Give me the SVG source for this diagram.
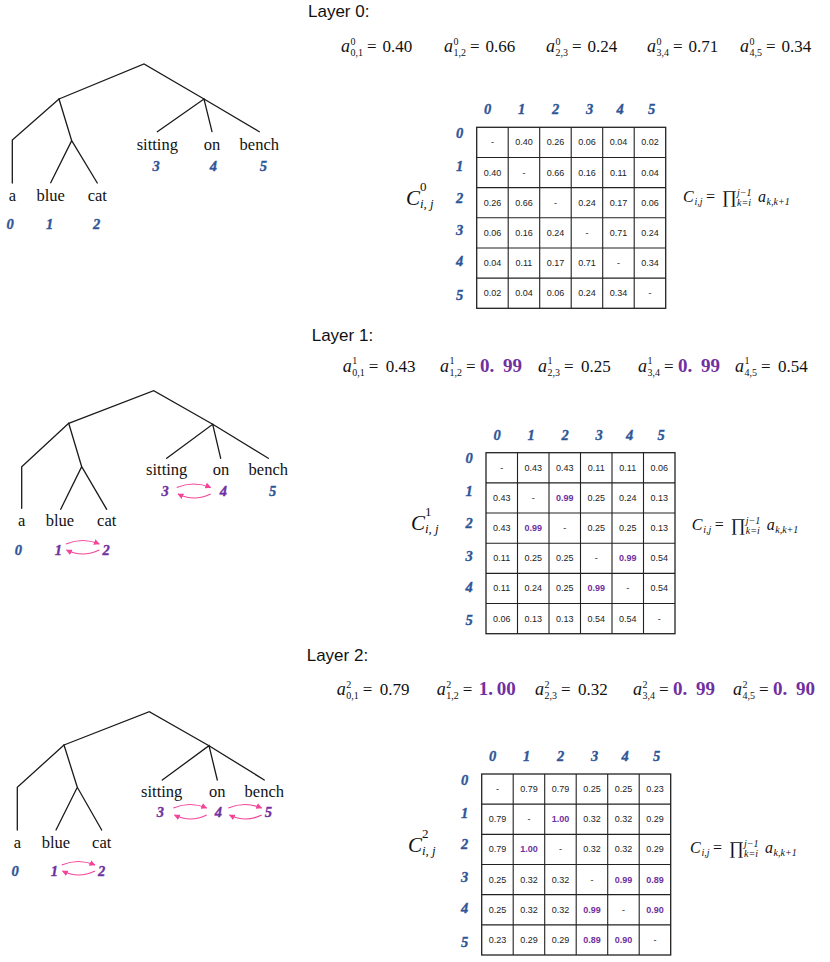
<svg xmlns="http://www.w3.org/2000/svg" xmlns:xlink="http://www.w3.org/1999/xlink" width="830" height="962" viewBox="0 0 830 962">
<style>
.ln{stroke:#1a1a1a;stroke-width:1.3;fill:none;stroke-linecap:round}
.w{font-family:"Liberation Serif","DejaVu Serif",serif;font-size:16.5px;text-anchor:middle;fill:#111}
.ix{font-family:"Liberation Serif","DejaVu Serif",serif;font-style:italic;font-weight:bold;font-size:14.5px;text-anchor:middle;fill:#2F5597;stroke:#2F5597;stroke-width:0.35}
.pu{fill:#7030A0;stroke:#7030A0}
.arr{stroke:#F4449A;stroke-width:1.2;fill:none;marker-end:url(#ah)}
.hd{font-family:"Liberation Sans",Arial,sans-serif;font-size:17px;fill:#111}
.m{font-family:"Liberation Serif","DejaVu Serif",serif;font-size:17px;fill:#111}
.mi{font-style:italic;font-size:18px}
.s{font-size:10px}
.pv{font-weight:bold;fill:#7030A0;font-size:19px}
.cell{font-family:"Liberation Sans",Arial,sans-serif;font-size:9px;text-anchor:middle;fill:#222}
.cp{fill:#7030A0;font-weight:bold}
.gr{stroke:#222;stroke-width:1.3;fill:#fff}
.gl{stroke:#222;stroke-width:1.1;fill:none}
.cl{font-family:"Liberation Serif","DejaVu Serif",serif;fill:#111}
.sf{font-family:"Liberation Serif","DejaVu Serif",serif;fill:#111}
</style>
<defs>
<marker id="ah" viewBox="0 0 10 10" refX="9" refY="5" markerWidth="6" markerHeight="6" orient="auto" markerUnits="userSpaceOnUse">
<path d="M0,0 L10,5 L0,10 z" fill="#F4449A"/>
</marker>
<g id="grid">
<rect class="gr" x="0" y="0" width="189" height="181"/>
<path class="gl" d="M31.5,0V181M63,0V181M94.5,0V181M126,0V181M157.5,0V181M0,30.17H189M0,60.33H189M0,90.5H189M0,120.67H189M0,150.83H189"/>
</g>
<g id="hdrs">
<text class="ix" y="-13"><tspan x="11">0</tspan><tspan x="45">1</tspan><tspan x="79">2</tspan><tspan x="113">3</tspan><tspan x="143.5">4</tspan><tspan x="175">5</tspan></text>
<text class="ix" x="-17" y="10.6">0</text>
<text class="ix" x="-17" y="43.6">1</text>
<text class="ix" x="-17" y="75.3">2</text>
<text class="ix" x="-17" y="107.9">3</text>
<text class="ix" x="-17" y="139">4</text>
<text class="ix" x="-17" y="172.6">5</text>
</g>
<g id="sform">
<text class="sf" x="0" y="0" font-size="16" font-style="italic">C</text>
<text class="sf" x="11.5" y="3" font-size="10" font-style="italic">i,j</text>
<text class="sf" x="23" y="0" font-size="16">=</text>
<text class="sf" x="39" y="1" font-size="18">∏</text>
<text class="sf" x="54" y="-6" font-size="10" font-style="italic">j−1</text>
<text class="sf" x="54" y="4" font-size="10" font-style="italic">k=i</text>
<text class="sf" x="75" y="0" font-size="16" font-style="italic">a</text>
<text class="sf" x="83.5" y="3" font-size="10" font-style="italic">k,k+1</text>
</g>
</defs>

<!-- ===== Layer 0 ===== -->
<text class="hd" x="308" y="17">Layer 0:</text>
<g id="coef0">
<g transform="translate(341,52)"><text class="m mi">a</text><text class="m s" x="9.5" y="-7.5">0</text><text class="m s" x="9.5" y="4">0,1</text><text class="m" x="26">=</text><text class="m" x="41.5">0.40</text></g>
<g transform="translate(444,52)"><text class="m mi">a</text><text class="m s" x="9.5" y="-7.5">0</text><text class="m s" x="9.5" y="4">1,2</text><text class="m" x="26">=</text><text class="m" x="41.5">0.66</text></g>
<g transform="translate(546,52)"><text class="m mi">a</text><text class="m s" x="9.5" y="-7.5">0</text><text class="m s" x="9.5" y="4">2,3</text><text class="m" x="26">=</text><text class="m" x="41.5">0.24</text></g>
<g transform="translate(647,52)"><text class="m mi">a</text><text class="m s" x="9.5" y="-7.5">0</text><text class="m s" x="9.5" y="4">3,4</text><text class="m" x="26">=</text><text class="m" x="41.5">0.71</text></g>
<g transform="translate(740,52)"><text class="m mi">a</text><text class="m s" x="9.5" y="-7.5">0</text><text class="m s" x="9.5" y="4">4,5</text><text class="m" x="26">=</text><text class="m" x="41.5">0.34</text></g>
</g>

<g id="tree0">
<g id="tree0-edges">
<path class="ln" d="M59,99 L144,64 L204,99"/>
<path class="ln" d="M59,99 L12.3,140 L12.3,183"/>
<path class="ln" d="M59,99 L71.7,140.7 M50.7,182.7 L71.7,140.7 L97.3,183"/>
<path class="ln" d="M157.3,131.7 L204,99 L212,131.7 M204,99 L259.3,131.7"/>
</g>
<g id="tree0-words">
<text class="w" x="12.3" y="201">a</text>
<text class="w" x="50.7" y="201">blue</text>
<text class="w" x="97.3" y="201">cat</text>
<text class="w" x="157.3" y="150">sitting</text>
<text class="w" x="212" y="150">on</text>
<text class="w" x="259.3" y="150">bench</text>
</g>
<g id="tree0-idx">
<text class="ix" x="10" y="228.5">0</text>
<text class="ix" x="49.5" y="228.5">1</text>
<text class="ix" x="96.5" y="228.5">2</text>
<text class="ix" x="156" y="171">3</text>
<text class="ix" x="213.3" y="171">4</text>
<text class="ix" x="263.3" y="171">5</text>
</g>
</g>

<g id="matrix0">
<text class="cl" x="406" y="205" font-size="21" font-style="italic">C</text>
<text class="cl" x="420" y="191" font-size="13">0</text>
<text class="cl" x="420" y="208" font-size="13" font-style="italic">i, j</text>
<g transform="translate(476.7,127.3)">
<use xlink:href="#grid"/>
<use xlink:href="#hdrs"/>
<text class="cell" y="18.1"><tspan x="15.75">-</tspan><tspan x="47.25">0.40</tspan><tspan x="78.75">0.26</tspan><tspan x="110.25">0.06</tspan><tspan x="141.75">0.04</tspan><tspan x="173.25">0.02</tspan></text>
<text class="cell" y="48.3"><tspan x="15.75">0.40</tspan><tspan x="47.25">-</tspan><tspan x="78.75">0.66</tspan><tspan x="110.25">0.16</tspan><tspan x="141.75">0.11</tspan><tspan x="173.25">0.04</tspan></text>
<text class="cell" y="78.4"><tspan x="15.75">0.26</tspan><tspan x="47.25">0.66</tspan><tspan x="78.75">-</tspan><tspan x="110.25">0.24</tspan><tspan x="141.75">0.17</tspan><tspan x="173.25">0.06</tspan></text>
<text class="cell" y="108.6"><tspan x="15.75">0.06</tspan><tspan x="47.25">0.16</tspan><tspan x="78.75">0.24</tspan><tspan x="110.25">-</tspan><tspan x="141.75">0.71</tspan><tspan x="173.25">0.24</tspan></text>
<text class="cell" y="138.8"><tspan x="15.75">0.04</tspan><tspan x="47.25">0.11</tspan><tspan x="78.75">0.17</tspan><tspan x="110.25">0.71</tspan><tspan x="141.75">-</tspan><tspan x="173.25">0.34</tspan></text>
<text class="cell" y="168.9"><tspan x="15.75">0.02</tspan><tspan x="47.25">0.04</tspan><tspan x="78.75">0.06</tspan><tspan x="110.25">0.24</tspan><tspan x="141.75">0.34</tspan><tspan x="173.25">-</tspan></text>
</g>
<use xlink:href="#sform" x="683" y="201.7"/>
</g>

<!-- ===== Layer 1 ===== -->
<text class="hd" x="311.7" y="341">Layer 1:</text>
<g id="coef1">
<g transform="translate(342.7,371.7)"><text class="m mi">a</text><text class="m s" x="9.5" y="-7.5">1</text><text class="m s" x="9.5" y="4">0,1</text><text class="m" x="26">=</text><text class="m" x="43">0.43</text></g>
<g transform="translate(440,371.7)"><text class="m mi">a</text><text class="m s" x="9.5" y="-7.5">1</text><text class="m s" x="9.5" y="4">1,2</text><text class="m" x="26">=</text><text class="m pv" x="40">0.</text><text class="m pv" x="63">99</text></g>
<g transform="translate(538,371.7)"><text class="m mi">a</text><text class="m s" x="9.5" y="-7.5">1</text><text class="m s" x="9.5" y="4">2,3</text><text class="m" x="26">=</text><text class="m" x="43">0.25</text></g>
<g transform="translate(638,371.7)"><text class="m mi">a</text><text class="m s" x="9.5" y="-7.5">1</text><text class="m s" x="9.5" y="4">3,4</text><text class="m" x="26">=</text><text class="m pv" x="40">0.</text><text class="m pv" x="63">99</text></g>
<g transform="translate(735,371.7)"><text class="m mi">a</text><text class="m s" x="9.5" y="-7.5">1</text><text class="m s" x="9.5" y="4">4,5</text><text class="m" x="26">=</text><text class="m" x="43">0.54</text></g>
</g>

<g id="tree1">
<g id="tree1-edges">
<path class="ln" d="M68.7,423.3 L153.7,390.7 L212.7,424.3"/>
<path class="ln" d="M68.7,423.3 L21.7,466.7 L21.7,508.3"/>
<path class="ln" d="M68.7,423.3 L81.7,466.7 M60.7,509.3 L81.7,466.7 L106.7,509.3"/>
<path class="ln" d="M166.7,458.3 L212.7,424.3 L220.7,458.3 M212.7,424.3 L268.3,458.3"/>
</g>
<g id="tree1-words">
<text class="w" x="21.7" y="525.5">a</text>
<text class="w" x="60" y="525.5">blue</text>
<text class="w" x="106.7" y="525.5">cat</text>
<text class="w" x="166.7" y="475">sitting</text>
<text class="w" x="221" y="475">on</text>
<text class="w" x="268.3" y="475">bench</text>
</g>
<g id="tree1-idx">
<text class="ix" x="18.3" y="554.5">0</text>
<text class="ix pu" x="58.3" y="554.5">1</text>
<text class="ix pu" x="106" y="554.5">2</text>
<text class="ix pu" x="165" y="495.5">3</text>
<text class="ix pu" x="223.3" y="495.5">4</text>
<text class="ix" x="272.7" y="495.5">5</text>
</g>
<g id="tree1-arrows">
<path class="arr" d="M66,544 Q82.7,537 99.3,544"/>
<path class="arr" d="M99.3,550 Q82.7,558 66.5,550"/>
<path class="arr" d="M176.7,487.5 Q193.7,480.5 210.7,487.5"/>
<path class="arr" d="M210.7,494 Q194,502 178,494"/>
</g>
</g>

<g id="matrix1">
<text class="cl" x="411" y="530" font-size="21" font-style="italic">C</text>
<text class="cl" x="425" y="516" font-size="13">1</text>
<text class="cl" x="425" y="533" font-size="13" font-style="italic">i, j</text>
<g transform="translate(486,452.7)">
<use xlink:href="#grid"/>
<use xlink:href="#hdrs"/>
<text class="cell" y="18.1"><tspan x="15.75">-</tspan><tspan x="47.25">0.43</tspan><tspan x="78.75">0.43</tspan><tspan x="110.25">0.11</tspan><tspan x="141.75">0.11</tspan><tspan x="173.25">0.06</tspan></text>
<text class="cell" y="48.3"><tspan x="15.75">0.43</tspan><tspan x="47.25">-</tspan><tspan x="78.75" class="cp">0.99</tspan><tspan x="110.25">0.25</tspan><tspan x="141.75">0.24</tspan><tspan x="173.25">0.13</tspan></text>
<text class="cell" y="78.4"><tspan x="15.75">0.43</tspan><tspan x="47.25" class="cp">0.99</tspan><tspan x="78.75">-</tspan><tspan x="110.25">0.25</tspan><tspan x="141.75">0.25</tspan><tspan x="173.25">0.13</tspan></text>
<text class="cell" y="108.6"><tspan x="15.75">0.11</tspan><tspan x="47.25">0.25</tspan><tspan x="78.75">0.25</tspan><tspan x="110.25">-</tspan><tspan x="141.75" class="cp">0.99</tspan><tspan x="173.25">0.54</tspan></text>
<text class="cell" y="138.8"><tspan x="15.75">0.11</tspan><tspan x="47.25">0.24</tspan><tspan x="78.75">0.25</tspan><tspan x="110.25" class="cp">0.99</tspan><tspan x="141.75">-</tspan><tspan x="173.25">0.54</tspan></text>
<text class="cell" y="168.9"><tspan x="15.75">0.06</tspan><tspan x="47.25">0.13</tspan><tspan x="78.75">0.13</tspan><tspan x="110.25">0.54</tspan><tspan x="141.75">0.54</tspan><tspan x="173.25">-</tspan></text>
</g>
<use xlink:href="#sform" x="691.7" y="530"/>
</g>

<!-- ===== Layer 2 ===== -->
<text class="hd" x="306.7" y="661">Layer 2:</text>
<g id="coef2">
<g transform="translate(336.7,695)"><text class="m mi">a</text><text class="m s" x="9.5" y="-7.5">2</text><text class="m s" x="9.5" y="4">0,1</text><text class="m" x="26">=</text><text class="m" x="43">0.79</text></g>
<g transform="translate(436.7,695)"><text class="m mi">a</text><text class="m s" x="9.5" y="-7.5">2</text><text class="m s" x="9.5" y="4">1,2</text><text class="m" x="26">=</text><text class="m pv" x="42">1.</text><text class="m pv" x="60">00</text></g>
<g transform="translate(535,695)"><text class="m mi">a</text><text class="m s" x="9.5" y="-7.5">2</text><text class="m s" x="9.5" y="4">2,3</text><text class="m" x="26">=</text><text class="m" x="43">0.32</text></g>
<g transform="translate(633,695)"><text class="m mi">a</text><text class="m s" x="9.5" y="-7.5">2</text><text class="m s" x="9.5" y="4">3,4</text><text class="m" x="26">=</text><text class="m pv" x="40">0.</text><text class="m pv" x="63">99</text></g>
<g transform="translate(733,695)"><text class="m mi">a</text><text class="m s" x="9.5" y="-7.5">2</text><text class="m s" x="9.5" y="4">4,5</text><text class="m" x="26">=</text><text class="m pv" x="40">0.</text><text class="m pv" x="63">90</text></g>
</g>

<g id="tree2">
<g id="tree2-edges">
<path class="ln" d="M64,745 L149.3,711.7 L209,745.7"/>
<path class="ln" d="M64,745 L17.3,787.3 L17.3,830"/>
<path class="ln" d="M64,745 L77.3,787.3 M56,830 L77.3,787.3 L101.7,830"/>
<path class="ln" d="M162.3,780 L209,745.7 L217.3,780 M209,745.7 L264.3,780"/>
</g>
<g id="tree2-words">
<text class="w" x="17.3" y="847.5">a</text>
<text class="w" x="56" y="847.5">blue</text>
<text class="w" x="101.7" y="847.5">cat</text>
<text class="w" x="161.7" y="796.5">sitting</text>
<text class="w" x="217.3" y="796.5">on</text>
<text class="w" x="264.3" y="796.5">bench</text>
</g>
<g id="tree2-idx">
<text class="ix" x="15" y="875.5">0</text>
<text class="ix pu" x="54.3" y="875.5">1</text>
<text class="ix pu" x="101.7" y="875.5">2</text>
<text class="ix pu" x="160.3" y="817">3</text>
<text class="ix pu" x="218.3" y="817">4</text>
<text class="ix pu" x="268.3" y="817">5</text>
</g>
<g id="tree2-arrows">
<path class="arr" d="M61.7,865 Q78.3,858 95,865"/>
<path class="arr" d="M95,871 Q78.5,879 62.5,871"/>
<path class="arr" d="M173.3,808 Q190,801 206.7,808"/>
<path class="arr" d="M206.7,815 Q190.5,823 174.5,815"/>
<path class="arr" d="M228.3,808 Q245,801 261.7,808"/>
<path class="arr" d="M261.7,815 Q245.5,823 229.5,815"/>
</g>
</g>

<g id="matrix2">
<text class="cl" x="408" y="851.7" font-size="21" font-style="italic">C</text>
<text class="cl" x="422" y="837.7" font-size="13">2</text>
<text class="cl" x="422" y="854.7" font-size="13" font-style="italic">i, j</text>
<g transform="translate(481.7,774)">
<use xlink:href="#grid"/>
<use xlink:href="#hdrs"/>
<text class="cell" y="18.1"><tspan x="15.75">-</tspan><tspan x="47.25">0.79</tspan><tspan x="78.75">0.79</tspan><tspan x="110.25">0.25</tspan><tspan x="141.75">0.25</tspan><tspan x="173.25">0.23</tspan></text>
<text class="cell" y="48.3"><tspan x="15.75">0.79</tspan><tspan x="47.25">-</tspan><tspan x="78.75" class="cp">1.00</tspan><tspan x="110.25">0.32</tspan><tspan x="141.75">0.32</tspan><tspan x="173.25">0.29</tspan></text>
<text class="cell" y="78.4"><tspan x="15.75">0.79</tspan><tspan x="47.25" class="cp">1.00</tspan><tspan x="78.75">-</tspan><tspan x="110.25">0.32</tspan><tspan x="141.75">0.32</tspan><tspan x="173.25">0.29</tspan></text>
<text class="cell" y="108.6"><tspan x="15.75">0.25</tspan><tspan x="47.25">0.32</tspan><tspan x="78.75">0.32</tspan><tspan x="110.25">-</tspan><tspan x="141.75" class="cp">0.99</tspan><tspan x="173.25" class="cp">0.89</tspan></text>
<text class="cell" y="138.8"><tspan x="15.75">0.25</tspan><tspan x="47.25">0.32</tspan><tspan x="78.75">0.32</tspan><tspan x="110.25" class="cp">0.99</tspan><tspan x="141.75">-</tspan><tspan x="173.25" class="cp">0.90</tspan></text>
<text class="cell" y="168.9"><tspan x="15.75">0.23</tspan><tspan x="47.25">0.29</tspan><tspan x="78.75">0.29</tspan><tspan x="110.25" class="cp">0.89</tspan><tspan x="141.75" class="cp">0.90</tspan><tspan x="173.25">-</tspan></text>
</g>
<use xlink:href="#sform" x="690" y="853.3"/>
</g>
</svg>
